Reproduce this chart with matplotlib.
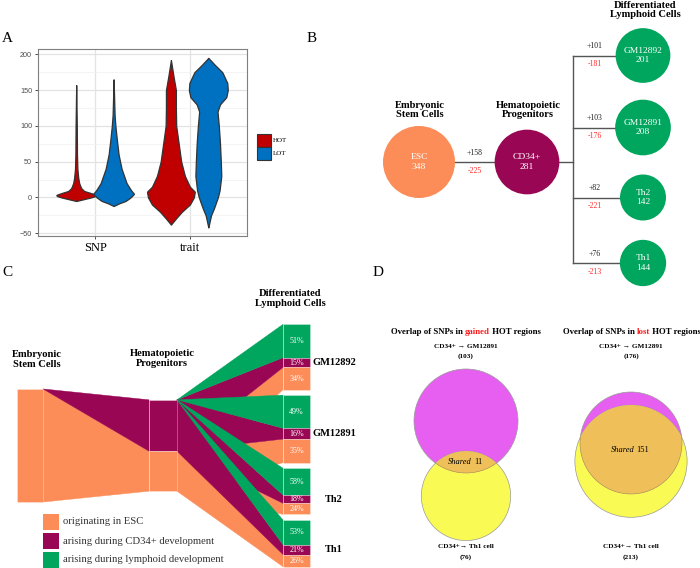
import numpy as np
import matplotlib
matplotlib.use('Agg')
import matplotlib.pyplot as plt
from matplotlib.patches import Circle, Polygon, Rectangle

SERIF = ['Liberation Serif', 'DejaVu Serif']
SANS = ['Liberation Sans', 'DejaVu Sans']
ORANGE = '#FC8D59'
PURPLE = '#990654'
GREEN = '#00A65D'

# ---------------- data ----------------
# panel A: violin outlines (value, half width in px)
violin_groups = ['SNP', 'trait']
violin_classes = ['HOT', 'LOT']
violin_colors = ['#C00000', '#0070C0']
snp_hot_y = [-5, -3, 0, 2, 3.5, 6, 9, 13, 20, 28, 40, 60, 100, 157]
snp_hot_w = [0, 6, 15, 19.5, 20, 15, 8, 5, 3, 2, 1.2, 0.8, 0.6, 0]
snp_lot_y = [-12, -8, -5, 0, 5, 10, 20, 40, 60, 80, 100, 115, 140, 165]
snp_lot_w = [0, 6, 12, 17, 20.5, 17.5, 13, 8, 5, 3.3, 1.8, 1.0, 0.5, 0]
trait_hot_y = [-38, -30, -20, -10, 0, 8, 15, 30, 50, 75, 100, 125, 150, 170, 185, 192]
trait_hot_w = [0, 4.7, 11, 19, 23, 24, 19, 14, 10.3, 7.8, 5.3, 5, 5, 2.5, 0.8, 0]
trait_lot_y = [-42, -25, -15, 0, 10, 30, 50, 75, 100, 120, 130, 140, 150, 160, 175, 185, 195]
trait_lot_w = [0, 2.7, 5.7, 9.5, 11.3, 13, 12.5, 11.7, 10.5, 9.2, 11.7, 18, 19.5, 19, 14, 6.7, 0]

# panel B / C: HOT region counts per cell type
cell_names = ['ESC', 'CD34+', 'GM12892', 'GM12891', 'Th2', 'Th1']
cell_counts = [348, 281, 201, 208, 142, 144]
gained = [158, 101, 103, 82, 76]
lost = [225, 181, 176, 221, 213]

# panel C: composition of lymphoid HOT regions (%)
pct_lymphoid = [51, 49, 58, 53]
pct_cd34 = [15, 16, 18, 21]
pct_esc = [34, 35, 24, 26]
legend_labels = ['originating in ESC', 'arising during CD34+ development',
                 'arising during lymphoid development']

# panel D: venn counts
venn_kind = ['gained', 'lost']
venn_top = [103, 176]
venn_bottom = [76, 213]
venn_shared = [11, 151]

# ---------------- figure ----------------
fig = plt.figure(figsize=(7, 5.68), dpi=100)

# ----- panel A -----
axA = fig.add_axes([38.3 / 700, 1 - 235.7 / 568, 208.4 / 700, 186.4 / 568])
axA.set_xlim(0.4, 2.6)
axA.set_ylim(-53.5, 207)
axA.set_yticks([-50, 0, 50, 100, 150, 200])
axA.set_yticks([-25, 25, 75, 125, 175], minor=True)
axA.set_xticks([1, 2])
axA.set_xticklabels(violin_groups, family=SERIF, fontsize=9)
axA.grid(True, which='major', color='#E3E3E3', lw=0.9)
axA.grid(True, which='minor', axis='y', color='#F2F2F2', lw=0.6)
axA.set_axisbelow(True)
for s in axA.spines.values():
    s.set_color('#7F7F7F')
    s.set_linewidth(0.8)
axA.tick_params(axis='y', labelsize=5.2, labelcolor='#4D4D4D', length=2.5, width=0.6, color='#333333', pad=2)
axA.tick_params(axis='x', length=2.5, width=0.6, color='#333333', pad=2)
axA.tick_params(which='minor', length=0)
for lab in axA.get_yticklabels():
    lab.set_family(SANS)

profiles = [[(snp_hot_y, snp_hot_w), (snp_lot_y, snp_lot_w)],
            [(trait_hot_y, trait_hot_w), (trait_lot_y, trait_lot_w)]]
px_per_unit = 95.0
for gi, grp in enumerate(profiles):
    for ci, (yv, wv) in enumerate(grp):
        center = gi + 1 + (-0.2 if ci == 0 else 0.195)
        ys = np.linspace(yv[0], yv[-1], 800)
        ws = np.interp(ys, yv, wv)
        ws = np.convolve(ws, np.ones(5) / 5, mode='same')
        ws[0] = ws[-1] = 0
        ws = np.maximum(ws, 0) / px_per_unit
        axA.fill_betweenx(ys, center - ws, center + ws, facecolor=violin_colors[ci],
                          edgecolor='#333333', lw=0.9, zorder=3)

# ----- overlay axes in pixel coordinates -----
ov = fig.add_axes([0, 0, 1, 1])
ov.set_xlim(0, 700)
ov.set_ylim(568, 0)
ov.axis('off')

# legend panel A
for i, (lab, col) in enumerate(zip(violin_classes, violin_colors)):
    ov.add_patch(Rectangle((257, 134 + 13 * i), 14, 13, fc=col, ec='#333333', lw=0.8))
    ov.text(272.5, 140.5 + 13 * i, lab, family=SERIF, fontsize=5, va='center', ha='left')

# panel letters
for lab, x, y in [('A', 7, 38), ('B', 312, 38), ('C', 7, 272.5), ('D', 378, 272.5)]:
    ov.text(x, y, lab, family=SERIF, fontsize=11, ha='center', va='center')

# ----- panel B -----
node_colors = [ORANGE, PURPLE, GREEN, GREEN, GREEN, GREEN]
node_x = [419, 527, 643, 643, 643, 643]
node_y = [162, 162, 55.5, 127.5, 197.5, 263]
r_scale = 36 / np.sqrt(348)
branch_x = 573
line_kw = dict(color='#555555', lw=1.0, zorder=1)
ov.plot([node_x[0], node_x[1]], [node_y[0], node_y[1]], **line_kw)
ov.plot([node_x[1], branch_x], [node_y[1], node_y[1]], **line_kw)
ov.plot([branch_x, branch_x], [node_y[2], node_y[5]], **line_kw)
for j in range(2, 6):
    ov.plot([branch_x, node_x[j]], [node_y[j], node_y[j]], **line_kw)

for name, cnt, col, x, y in zip(cell_names, cell_counts, node_colors, node_x, node_y):
    ov.add_patch(Circle((x, y), r_scale * np.sqrt(cnt), fc=col, ec='none', zorder=2))
    ov.text(x, y, f'{name}\n{cnt}', color='white', family=SERIF, fontsize=6.8,
            ha='center', va='center', linespacing=1.2, zorder=3)

lab_x = [475] + [595] * 4
lab_y = [node_y[1]] + node_y[2:]
for g, l, x, y in zip(gained, lost, lab_x, lab_y):
    ov.text(x, y - 9, f'+{g}', family=SERIF, fontsize=5.6, ha='center', va='center', color='#222222')
    ov.text(x, y + 9, f'-{l}', family=SERIF, fontsize=5.6, ha='center', va='center', color='#FF2A2A')

title_kw = dict(family=SERIF, fontsize=7.6, fontweight='bold', ha='center', va='center', linespacing=1.05)
ov.text(420, 110, 'Embryonic\nStem Cells', **title_kw)
ov.text(528, 110, 'Hematopoietic\nProgenitors', **title_kw)
ov.text(645, 10, 'Differentiated\nLymphoid Cells', **title_kw)

# ----- panel C (flow diagram) -----
k = 0.325
cy = 445.5
gap = 5.5
xe0, xe1 = 17, 43
xc0, xc1 = 149, 177
xt0, xt1 = 283, 310

esc_h = cell_counts[0] * k
esc_top, esc_bot = cy - esc_h / 2, cy + esc_h / 2
cd_top = cy - cell_counts[1] * k / 2
cd_mid = cd_top + gained[0] * k
cd_bot = cy + cell_counts[1] * k / 2


def flow(x0, s0, s1, x1, t0, t1, col):
    ov.add_patch(Polygon([(x0, s0), (x1, t0), (x1, t1), (x0, s1)], closed=True,
                         fc=col, ec=col, lw=0.3))


# ESC -> CD34+
flow(xe1, esc_top, esc_bot, xc0, cd_mid, cd_bot, ORANGE)
flow(xe1, esc_top, esc_top, xc0, cd_top, cd_mid, PURPLE)

# CD34+ -> lymphoid targets
lym_counts = cell_counts[2:]
total_h = sum(lym_counts) * k + gap * (len(lym_counts) - 1)
t = cy - total_h / 2
segs = []
for cnt, pg, pp, po in zip(lym_counts, pct_lymphoid, pct_cd34, pct_esc):
    h = cnt * k
    g0, g1 = t, t + h * pg / 100
    p0, p1 = g1, g1 + h * pp / 100
    o0, o1 = p1, t + h
    segs.append(((g0, g1), (p0, p1), (o0, o1)))
    t += h + gap

for (g, p, o) in segs:
    flow(xc1, cd_mid, cd_bot, xt0, o[0], o[1], ORANGE)
    flow(xc1, cd_top, cd_mid, xt0, p[0], p[1], PURPLE)
    flow(xc1, cd_top, cd_top, xt0, g[0], g[1], GREEN)

block_kw = dict(ec=(1, 1, 1, 0.35), lw=0.6)
ov.add_patch(Rectangle((xe0, esc_top), xe1 - xe0, esc_h, fc=ORANGE, **block_kw))
ov.add_patch(Rectangle((xc0, cd_top), xc1 - xc0, cd_mid - cd_top, fc=PURPLE, **block_kw))
ov.add_patch(Rectangle((xc0, cd_mid), xc1 - xc0, cd_bot - cd_mid, fc=ORANGE, **block_kw))

for name, (g, p, o), pg, pp, po in zip(cell_names[2:], segs, pct_lymphoid, pct_cd34, pct_esc):
    for (a, b), col, pct in [(g, GREEN, pg), (p, PURPLE, pp), (o, ORANGE, po)]:
        ov.add_patch(Rectangle((xt0, a), xt1 - xt0, b - a, fc=col, **block_kw))
        ov.text((xt0 + xt1) / 2, (a + b) / 2, f'{pct}%', color='white', family=SERIF,
                fontsize=5.8, ha='center', va='center')
    ov.text(334, (p[0] + p[1]) / 2, name, family=SERIF, fontsize=7.5, fontweight='bold',
            ha='center', va='center')

ov.text(37, 359.5, 'Embryonic\nStem Cells', **title_kw)
ov.text(162, 358.5, 'Hematopoietic\nProgenitors', **title_kw)
ov.text(290, 298.5, 'Differentiated\nLymphoid Cells', **title_kw)

for i, (lab, col) in enumerate(zip(legend_labels, [ORANGE, PURPLE, GREEN])):
    ov.add_patch(Rectangle((43, 514 + 19 * i), 16, 16, fc=col, ec='none'))
    ov.text(63, 522 + 19 * i, lab, family=SERIF, fontsize=7.7, color='#333333', va='center', ha='left')

# ----- panel D (venn) -----
renderer = fig.canvas.get_renderer()


def text_width(s, **kw):
    t1 = ov.text(0, 0, 'x' + s + 'x', **kw)
    t2 = ov.text(0, 0, 'xx', **kw)
    w = t1.get_window_extent(renderer).width - t2.get_window_extent(renderer).width
    t1.remove()
    t2.remove()
    return w


def rich_text(xc, y, parts):
    widths = [text_width(s, **kw) for s, kw in parts]
    x = xc - sum(widths) / 2
    for (s, kw), w in zip(parts, widths):
        ov.text(x, y, s, ha='left', va='center', **kw)
        x += w


def lens_area(r1, r2, d):
    if d >= r1 + r2:
        return 0.0
    if d <= abs(r1 - r2):
        return np.pi * min(r1, r2) ** 2
    a1 = r1 ** 2 * np.arccos((d * d + r1 * r1 - r2 * r2) / (2 * d * r1))
    a2 = r2 ** 2 * np.arccos((d * d + r2 * r2 - r1 * r1) / (2 * d * r2))
    a3 = 0.5 * np.sqrt((-d + r1 + r2) * (d + r1 - r2) * (d - r1 + r2) * (d + r1 + r2))
    return a1 + a2 - a3


def center_distance(r1, r2, target):
    lo, hi = abs(r1 - r2), r1 + r2
    for _ in range(60):
        mid = (lo + hi) / 2
        if lens_area(r1, r2, mid) > target:
            lo = mid
        else:
            hi = mid
    return (lo + hi) / 2


MAG, YEL, OVL = '#E65FF0', '#FAFA55', '#EFC05A'
venn_cx = [466, 631]
venn_top_y = [421, 443]
venn_top_r = [52, 51]
bold = dict(family=SERIF, fontweight='bold')

for i in range(2):
    xc = venn_cx[i]
    rich_text(xc + (0 if i == 0 else 1), 332,
              [('Overlap of SNPs in', dict(fontsize=6.3, **bold)),
               (' ', dict(fontsize=6.3, **bold)),
               (venn_kind[i], dict(fontsize=6.3, color='#FF1A1A', **bold)),
               (' HOT regions', dict(fontsize=6.3, **bold))])
    ov.text(xc, 347, 'CD34+ \u2192 GM12891', ha='center', va='center', fontsize=5.2, **bold)
    ov.text(xc, 356.5, f'({venn_top[i]})', ha='center', va='center', fontsize=5.2, **bold)
    ov.text(xc, 547, 'CD34+\u2192 Th1 cell', ha='center', va='center', fontsize=5.2, **bold)
    ov.text(xc, 557, f'({venn_bottom[i]})', ha='center', va='center', fontsize=5.2, **bold)

    r1 = venn_top_r[i]
    r2 = r1 * np.sqrt(venn_bottom[i] / venn_top[i])
    d = center_distance(r1, r2, np.pi * r1 ** 2 * venn_shared[i] / venn_top[i])
    c1 = (xc, venn_top_y[i])
    c2 = (xc, venn_top_y[i] + d)
    ov.add_patch(Circle(c1, r1, fc=MAG, ec='#9A9A9A', lw=0.5))
    yc = Circle(c2, r2, fc=YEL, ec='#9A9A9A', lw=0.5)
    ov.add_patch(yc)
    lens = Circle(c1, r1, fc=OVL, ec='#A08060', lw=0.4)
    ov.add_patch(lens)
    lens.set_clip_path(yc)
    # label in the middle of the shared region
    ly = (c2[1] - r2 + c1[1] + r1) / 2
    rich_text(xc - 1, ly, [('Shared', dict(family=SERIF, style='italic', fontsize=6)),
                           (' ', dict(family=SERIF, fontsize=6)),
                           (str(venn_shared[i]), dict(family=SERIF, fontsize=6))])

fig.savefig('out.png', dpi=100)
